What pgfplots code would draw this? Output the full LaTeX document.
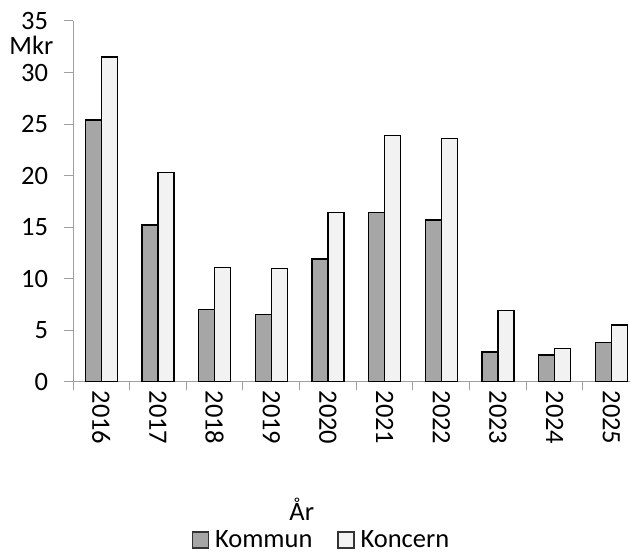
\documentclass[border=0pt]{standalone}
\usepackage{fontspec}
\setmainfont{Carlito}
\usepackage{pgfplots}
\usepackage{pgfplotstable}
\pgfplotsset{compat=1.18}

\definecolor{kommun}{HTML}{A6A6A6}
\definecolor{koncern}{HTML}{F2F2F2}
\definecolor{axisgray}{HTML}{A0A0A0}
\newcommand\chartfont{\fontsize{26.5bp}{31bp}\selectfont}

% index, year, Kommun, Koncern (Mkr)
\pgfplotstableread{
idx year kommun koncern
0 2016 25.4 31.5
1 2017 15.2 20.3
2 2018 7.0 11.1
3 2019 6.5 11.0
4 2020 11.9 16.4
5 2021 16.4 23.9
6 2022 15.7 23.6
7 2023 2.9 6.9
8 2024 2.6 3.2
9 2025 3.8 5.5
}\datatable

\pgfplotsset{
  boxlegend/.style={legend image code/.code={
      \draw[##1, draw=black!80, line width=1.1bp] (0bp,-8.5bp) rectangle (16bp,7.5bp);}},
}

\begin{document}
\begin{tikzpicture}
\useasboundingbox (0bp,0bp) rectangle (630bp,554bp);
\begin{axis}[
    at={(73bp,172.3bp)}, anchor=south west,
    scale only axis, width=557bp, height=360.7bp,
    xmin=-0.5, xmax=9.33, ymin=0, ymax=35,
    clip=false,
    axis x line*=bottom, axis y line*=left,
    axis line style={axisgray, line width=1bp, -},
    ybar=0pt, bar width=16bp,
    xtick={0,...,9},
    xticklabels={2016,2017,2018,2019,2020,2021,2022,2023,2024,2025},
    minor xtick={-0.5,0.5,...,9.5},
    major x tick style={draw=none},
    ytick={0,5,...,35},
    tick align=outside,
    major tick length=8.7bp, minor tick length=8.7bp,
    tick style={axisgray, line width=1bp},
    /pgf/number format/assume math mode=true,
    tick label style={font=\chartfont},
    xticklabel style={rotate=-90, anchor=west, inner sep=0pt},
    yticklabel style={anchor=east, inner sep=0pt, xshift=-16bp},
    legend columns=2,
    legend style={at={(axis description cs:0.2131,-0.4375)}, anchor=west,
      draw=none, fill=none, font=\chartfont, inner sep=0pt,
      nodes={inner sep=0pt},
      /tikz/every odd column/.append style={column sep=6bp},
      /tikz/every even column/.append style={column sep=25bp}},
  ]
  \addplot[boxlegend, draw=black, line width=1.5bp, fill=kommun] table[x=idx, y=kommun] {\datatable};
  \addplot[boxlegend, draw=black, line width=1.5bp, fill=koncern] table[x=idx, y=koncern] {\datatable};
  \legend{Kommun, Koncern}
\end{axis}
\node[anchor=base east, inner sep=0pt, font=\chartfont] at (53.5bp,499bp) {Mkr};
\node[anchor=base, inner sep=0pt, font=\chartfont] at (301.7bp,33.3bp) {År};
\end{tikzpicture}
\end{document}
